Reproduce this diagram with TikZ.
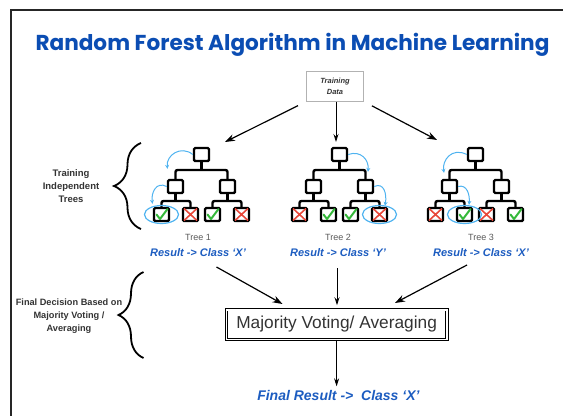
\documentclass[tikz,border=0pt]{standalone}
\usepackage{fontspec}
\setmainfont{Liberation Sans}
\newfontfamily\titlefont{Poppins}
\usetikzlibrary{arrows.meta,decorations.pathreplacing}

\definecolor{titleblue}{HTML}{0B4DB3}
\definecolor{resultblue}{HTML}{1C5CC0}
\definecolor{hopblue}{HTML}{4FB3F0}
\definecolor{tickgreen}{HTML}{35B83A}
\definecolor{crossred}{HTML}{E8483A}

\tikzset{
  tbox/.style={draw, line width=2.4pt, rounded corners=1.2pt, minimum width=15pt, minimum height=13pt, inner sep=0pt},
  branch/.style={line width=2.4pt, rounded corners=2pt},
  feed/.style={line width=1.2pt, -{Stealth[length=10pt,width=7pt]}},
  thinfeed/.style={line width=0.8pt, -{Stealth[length=8pt,width=5pt]}},
  hop/.style={hopblue, line width=1pt, -{Stealth[length=4pt,width=4pt]}},
  ring/.style={hopblue, line width=1.2pt},
  curly/.style={decorate, decoration={brace, amplitude=#1}, line width=1.8pt},
  result/.style={text=resultblue, font=\bfseries\itshape\fontsize{11}{13}\selectfont},
  tick/.pic={\draw[tickgreen, line width=2pt, line cap=round, line join=round] (-5,0) -- (-1.5,4.5) -- (6,-5.5);},
  cross/.pic={\draw[crossred, line width=1.6pt] (-6.5,-6) -- (6.5,6) (-6.5,6) -- (6.5,-6);}
}

\begin{document}
\begin{tikzpicture}[x=1pt, y=-1pt]
	\useasboundingbox (0,0) rectangle (563,416);
	
	% Frame
	\draw[line width=2pt, black!85] (563,10) -- (11,10) -- (11,416);
	
	% Title
	\node[anchor=base, text=titleblue, font=\titlefont\bfseries\fontsize{21.6}{26}\selectfont] (title) at (292.5,50) {Random Forest Algorithm in Machine Learning};
	
	% Training data
	\node[draw=black!30, line width=0.8pt, minimum width=57pt, minimum height=30pt, align=center,
	  font=\bfseries\itshape\fontsize{7.5}{10.5}\selectfont, text=black!80] (data) at (335,86.2) {Training\\Data};
	
	% Three trees
	\foreach \t/\x/\lx/\c in {1/201.5/198/X, 2/339.5/338/Y, 3/475.5/481/X} {
		\node[tbox] (t\t-root) at (\x,154.5) {};
		\node[tbox] (t\t-a) at (\x-26,186.5) {};
		\node[tbox] (t\t-b) at (\x+26,186.5) {};
		\node[tbox] (t\t-1) at (\x-40,214.5) {};
		\node[tbox] (t\t-2) at (\x-11,214.5) {};
		\node[tbox] (t\t-3) at (\x+11,214.5) {};
		\node[tbox] (t\t-4) at (\x+40,214.5) {};
		\coordinate (t\t-j) at (\x,170);
		\coordinate (t\t-ja) at (\x-26,201);
		\coordinate (t\t-jb) at (\x+26,201);
		\draw[branch] (t\t-root.south) -- (t\t-j);
		\draw[branch] (t\t-a.north) |- (t\t-j) -| (t\t-b.north);
		\draw[branch] (t\t-a.south) -- (t\t-ja);
		\draw[branch] (t\t-1.north) |- (t\t-ja) -| (t\t-2.north);
		\draw[branch] (t\t-b.south) -- (t\t-jb);
		\draw[branch] (t\t-3.north) |- (t\t-jb) -| (t\t-4.north);
		\node[text=black!65, font=\fontsize{9}{10}\selectfont] (t\t-name) at (\lx,237) {Tree \t};
		\node[result] (t\t-res) at (\lx,253) {Result -> Class `\c'};
	}
	
	% Leaf outcomes
	\foreach \n/\k in {t1-1/tick, t1-2/cross, t1-3/tick, t1-4/cross,
	                   t2-1/cross, t2-2/tick, t2-3/tick, t2-4/cross,
	                   t3-1/cross, t3-2/tick, t3-3/cross, t3-4/tick}
		\pic at (\n) {\k};
	
	% Decision paths
	\draw[hop] (t1-root.west) .. controls (181,145) and (166,155) .. ([xshift=-8pt,yshift=10pt]t1-a.north);
	\draw[hop] (t1-a.west) .. controls (156,181) and (151,193) .. ([xshift=-9pt,yshift=3pt]t1-1.north);
	\draw[ring] (t1-1) ellipse [x radius=17, y radius=9];
	\draw[hop] (t2-root.east) .. controls (361,150) and (369,160) .. ([xshift=2.5pt,yshift=7pt]t2-b.north);
	\draw[hop] (t2-b.east) .. controls (384,182) and (387,194) .. ([xshift=5.5pt,yshift=1pt]t2-4.north);
	\draw[ring] (t2-4) ellipse [x radius=17, y radius=9];
	\draw[hop] (t3-root.west) .. controls (452,147) and (442,160) .. ([xshift=-5.5pt,yshift=6pt]t3-a.north);
	\draw[hop] (t3-a.east) .. controls (467,184) and (470,195) .. ([xshift=4.5pt,yshift=2pt]t3-2.north);
	\draw[ring] (t3-2) ellipse [x radius=17, y radius=9];
	
	% Data to trees
	\coordinate (in1) at (225,142);
	\coordinate (in2) at (336,142);
	\coordinate (in3) at (437,140);
	\draw[feed, shorten <=9pt] (data.south west) -- (in1);
	\draw[thinfeed] (data.south -| in2) -- (in2);
	\draw[feed, shorten <=9pt] (data.south east) -- (in3);
	
	% Braces and their labels
	\coordinate (b1-top) at (141,143);
	\coordinate (b1-bot) at (141,229);
	\draw[curly=27pt] (b1-bot) -- (b1-top);
	\node[font=\bfseries\fontsize{9.5}{13}\selectfont, text=black!80, align=center] (trainlbl) at (71,186) {Training\\Independent\\Trees};
	
	\coordinate (b2-top) at (143.5,272);
	\coordinate (b2-bot) at (143.5,358);
	\draw[curly=25pt] (b2-bot) -- (b2-top);
	\node[font=\bfseries\fontsize{9.2}{13}\selectfont, text=black!80, align=center] (votelbl) at (69,316) {Final Decision Based on\\Majority Voting /\\Averaging};
	
	% Voting
	\node[draw, double, double distance=1.6pt, line width=0.9pt, minimum width=220.5pt, minimum height=29.6pt,
	  font=\fontsize{17.3}{20}\selectfont, text=black!80] (vote) at (336.6,324.5) {Majority Voting/ Averaging};
	
	\coordinate (out1) at (216.5,267);
	\coordinate (out2) at (337,268);
	\coordinate (out3) at (467,265);
	\draw[feed] (out1) -- (282.5,304);
	\draw[thinfeed, shorten >=4pt] (out2) -- (out2 |- vote.north);
	\draw[feed] (out3) -- (395,303);
	
	% Final result
	\node[result, font=\bfseries\itshape\fontsize{14}{16}\selectfont] (final) at (338.4,395) {Final Result ->\ \ Class `X'};
	\draw[thinfeed] (vote.south) -- (vote.south |- final.north);
	
\end{tikzpicture}
\end{document}
